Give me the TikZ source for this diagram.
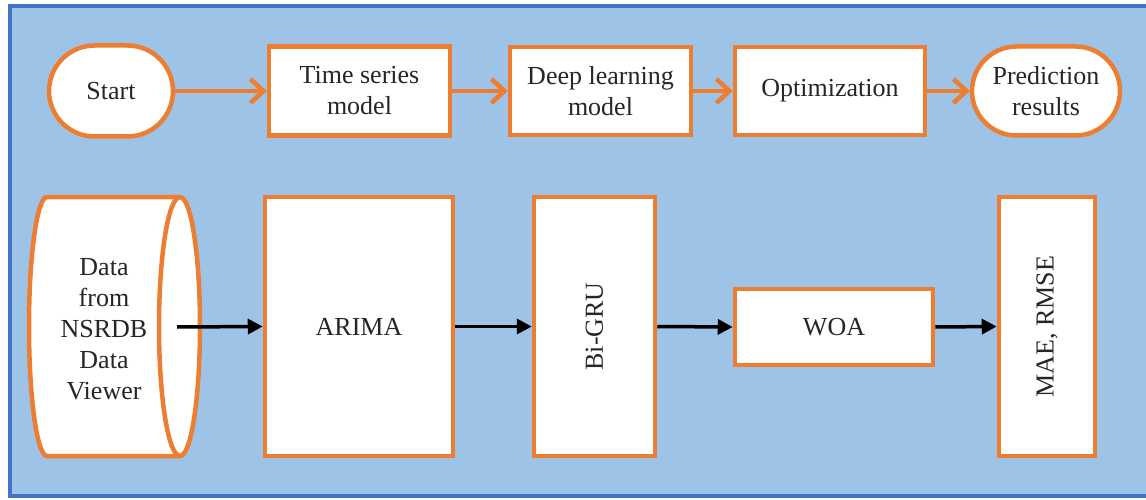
\documentclass[tikz,border=0pt]{standalone}
\usepackage{fontspec}
\setmainfont{Liberation Serif}
\usetikzlibrary{arrows.meta,shapes.misc}
\definecolor{bgblue}{HTML}{9DC3E6}
\definecolor{frameblue}{HTML}{4472C4}
\definecolor{orng}{HTML}{ED7D31}
\definecolor{txt}{HTML}{262626}
\begin{document}
\begin{tikzpicture}[x=1pt,y=-1pt,
  txtfont/.style={font=\fontsize{26}{31}\selectfont},
  box/.style={draw=orng, fill=white, line width=4.5pt, inner sep=0pt, align=center, text=txt, txtfont},
  term/.style={box, rounded rectangle},
  lbl/.style={text=txt, align=center, inner sep=0pt, txtfont},
  flow/.style={draw=orng, line width=4.5pt, -{Straight Barb[length=13pt,width=24pt,line width=4.5pt]}},
  link/.style={draw=black, line width=3.5pt, -{Triangle[length=15pt,width=15pt]}}
]
\useasboundingbox (0,0) rectangle (1146,500);
\fill[white] (0,0) rectangle (1146,500);
\path[fill=bgblue, draw=frameblue, line width=4pt] (10,6.5) rectangle (1156,496);

% top row
\node[term, minimum width=124pt, minimum height=91pt] (start) at (111,91) {Start};
\node[box, minimum width=181pt, minimum height=89pt] (ts) at (359.5,91) {Time series\\model};
\node[box, minimum width=181pt, minimum height=88pt] (dl) at (600.5,91) {Deep learning\\model};
\node[box, minimum width=190pt, minimum height=88pt] (opt) at (830,91) {Optimization};
\node[term, minimum width=148pt, minimum height=89pt] (pred) at (1046,91) {Prediction\\results};

\draw[flow] (start.east) -- (ts.west);
\draw[flow] (ts.east) -- (dl.west);
\draw[flow] (dl.east) -- (opt.west);
\draw[flow] (opt.east) -- (pred.west);

% bottom row: data cylinder
\path[fill=white, draw=orng, line width=4.5pt, line join=round]
  (47,197) -- (180,197)
  arc[start angle=90, end angle=-90, x radius=20pt, y radius=129.5pt]
  -- (47,456)
  arc[start angle=270, end angle=90, x radius=18pt, y radius=129.5pt] -- cycle;
\draw[orng, line width=4.5pt]
  (180,197) arc[start angle=90, end angle=270, x radius=21pt, y radius=129.5pt];
\node[lbl] (data) at (104,329) {Data\\from\\NSRDB\\Data\\Viewer};
\coordinate (dataout) at (177,327);

\node[box, minimum width=188pt, minimum height=259pt] (arima) at (359,326.5) {ARIMA};
\node[box, minimum width=121pt, minimum height=259pt] (bigru) at (594.5,326.5) {};
\node[lbl, rotate=90] (bigrulbl) at (bigru) {Bi-GRU};
\node[box, minimum width=198pt, minimum height=76pt] (woa) at (834,327) {WOA};
\node[box, minimum width=96pt, minimum height=259pt] (mae) at (1047,326.5) {};
\node[lbl, rotate=90] (maelbl) at (mae) {MAE, RMSE};

\draw[link] (dataout) -- (arima.west);
\draw[link] (arima.east) -- (bigru.west);
\draw[link] (bigru.east) -- (woa.west);
\draw[link] (woa.east) -- (mae.west);
\end{tikzpicture}
\end{document}
